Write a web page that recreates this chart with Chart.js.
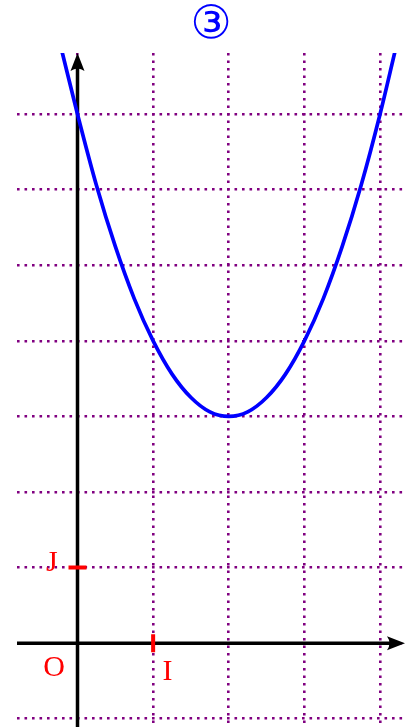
<!DOCTYPE html>
<html>
<head>
<meta charset="utf-8">
<script src="https://cdn.jsdelivr.net/npm/chart.js@4/dist/chart.umd.min.js"></script>
<style>
    html, body { margin: 0; padding: 0; background: #fff; }
    #wrap { width: 414px; height: 727px; position: relative; }
</style>
</head>
<body>
<div id="wrap"><canvas id="courbe"></canvas></div>
<script>
"use strict";

// points
var curveX = [-0.21, 0, 0.25, 0.5, 0.75, 1, 1.25, 1.5, 1.75, 2, 2.25, 2.5, 2.75, 3, 3.25, 3.5, 3.75, 4, 4.2];
var curveY = [7.85, 7.0, 6.06, 5.25, 4.56, 4.0, 3.56, 3.25, 3.06, 3.0, 3.06, 3.25, 3.56, 4.0, 4.56, 5.25, 6.06, 7.0, 7.84];

// grid positions
var xGrid = [0, 1, 2, 3, 4];
var yGrid = [-1, 0, 1, 2, 3, 4, 5, 6, 7];

var titleText = "\u2462";
var labelO = "O", labelI = "I", labelJ = "J";

var purple = "#800080";

var repere = {
    id: "repere",
    beforeDatasetsDraw: function(chart) {
        var ctx = chart.ctx, xs = chart.scales.x, ys = chart.scales.y, a = chart.chartArea;
        var x0 = xs.getPixelForValue(0), y0 = ys.getPixelForValue(0);
        ctx.save();
        ctx.strokeStyle = "#000";
        ctx.fillStyle = "#000";
        ctx.lineWidth = 3.5;
        // x axis
        ctx.beginPath();
        ctx.moveTo(a.left, y0);
        ctx.lineTo(a.right - 8, y0);
        ctx.stroke();
        // y axis
        ctx.beginPath();
        ctx.moveTo(x0, a.bottom);
        ctx.lineTo(x0, a.top + 8);
        ctx.stroke();
        // arrow heads
        ctx.beginPath();
        ctx.moveTo(a.right, y0);
        ctx.lineTo(a.right - 18, y0 - 7);
        ctx.quadraticCurveTo(a.right - 13, y0, a.right - 18, y0 + 7);
        ctx.closePath();
        ctx.fill();
        ctx.beginPath();
        ctx.moveTo(x0, a.top);
        ctx.lineTo(x0 - 7, a.top + 18);
        ctx.quadraticCurveTo(x0, a.top + 13, x0 + 7, a.top + 18);
        ctx.closePath();
        ctx.fill();
        ctx.restore();
    },
    afterDraw: function(chart) {
        var ctx = chart.ctx, xs = chart.scales.x, ys = chart.scales.y, a = chart.chartArea;
        var x0 = xs.getPixelForValue(0), y0 = ys.getPixelForValue(0);
        var x1 = xs.getPixelForValue(1), y1 = ys.getPixelForValue(1);
        ctx.save();
        ctx.strokeStyle = "#ff0000";
        ctx.lineWidth = 4;
        ctx.beginPath();
        ctx.moveTo(x0 - 9, y1);
        ctx.lineTo(x0 + 9, y1);
        ctx.moveTo(x1, y0 - 9);
        ctx.lineTo(x1, y0 + 9);
        ctx.stroke();

        ctx.fillStyle = "#ff0000";
        ctx.font = "30px 'Liberation Serif', serif";
        ctx.textAlign = "center";
        ctx.textBaseline = "middle";
        ctx.fillText(labelJ, xs.getPixelForValue(-0.34), ys.getPixelForValue(1.06));
        ctx.fillText(labelO, xs.getPixelForValue(-0.31), ys.getPixelForValue(-0.33));
        ctx.fillText(labelI, xs.getPixelForValue(1.19), ys.getPixelForValue(-0.38));

        ctx.fillStyle = "#0000ff";
        ctx.font = "46px 'DejaVu Sans', sans-serif";
        ctx.fillText(titleText, (a.left + a.right) / 2, 26);
        ctx.restore();
    }
};

var gridOpts = {
    color: purple,
    lineWidth: 2.6,
    drawTicks: false
};

new Chart(document.getElementById("courbe").getContext("2d"), {
    type: "line",
    data: {
        datasets: [{
            label: "f",
            data: curveX.map(function(x, i) { return { x: x, y: curveY[i] }; }),
            borderColor: "#0000ff",
            borderWidth: 3.7,
            pointRadius: 0,
            fill: false,
            cubicInterpolationMode: "monotone"
        }]
    },
    options: {
        responsive: true,
        maintainAspectRatio: false,
        animation: false,
        events: [],
        layout: { padding: { left: 17, right: 9, top: 53, bottom: 0 } },
        plugins: {
            legend: { display: false },
            tooltip: { enabled: false },
            title: { display: false }
        },
        scales: {
            x: {
                type: "linear",
                min: -0.8,
                max: 4.33,
                afterBuildTicks: function(s) { s.ticks = xGrid.map(function(v) { return { value: v }; }); },
                ticks: { display: false },
                border: { display: false, dash: [2.6, 4.9] },
                grid: gridOpts
            },
            y: {
                type: "linear",
                min: -1.11,
                max: 7.81,
                afterBuildTicks: function(s) { s.ticks = yGrid.map(function(v) { return { value: v }; }); },
                ticks: { display: false },
                border: { display: false, dash: [2.6, 4.9] },
                grid: gridOpts
            }
        }
    },
    plugins: [repere]
});
</script>
</body>
</html>
